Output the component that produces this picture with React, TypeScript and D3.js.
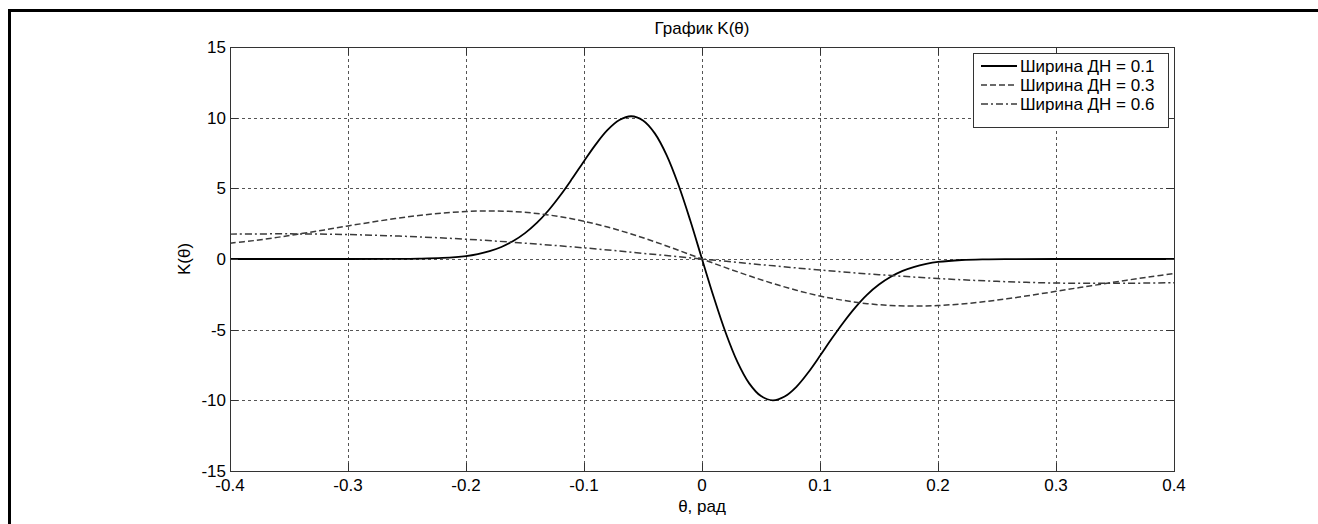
import React from 'react';
import * as d3 from 'd3';

// values
const thetaSolid = [
  -0.4, -0.3, -0.26, -0.24, -0.22, -0.2, -0.19, -0.18, -0.17, -0.16, -0.15, -0.14, -0.13,
  -0.12, -0.11, -0.1, -0.09, -0.08, -0.07, -0.06, -0.05, -0.04, -0.03, -0.02, -0.01, 0,
  0.01, 0.02, 0.03, 0.04, 0.05, 0.06, 0.07, 0.08, 0.09, 0.1, 0.11, 0.12, 0.13, 0.14, 0.15,
  0.16, 0.17, 0.18, 0.19, 0.2, 0.22, 0.24, 0.26, 0.3, 0.4,
];
const kSolid = [
  0, 0, 0.005, 0.022, 0.073, 0.21, 0.35, 0.56, 0.85, 1.27, 1.83, 2.55, 3.45,
  4.51, 5.69, 6.92, 8.11, 9.13, 9.83, 10.1, 9.8, 8.89, 7.35, 5.25, 2.74, 0,
  -2.71, -5.2, -7.28, -8.8, -9.7, -10.0, -9.73, -9.04, -8.03, -6.85, -5.63, -4.47, -3.42, -2.52, -1.81,
  -1.26, -0.84, -0.55, -0.35, -0.21, -0.07, -0.02, -0.005, 0, 0,
];

const thetaDashed = [
  -0.4, -0.38, -0.36, -0.34, -0.32, -0.3, -0.28, -0.26, -0.24, -0.22, -0.2, -0.18, -0.16,
  -0.14, -0.12, -0.1, -0.08, -0.06, -0.04, -0.02, 0, 0.02, 0.04, 0.06, 0.08, 0.1, 0.12,
  0.14, 0.16, 0.18, 0.2, 0.22, 0.24, 0.26, 0.28, 0.3, 0.32, 0.34, 0.36, 0.38, 0.4,
];
const kDashed = [
  1.12, 1.3, 1.53, 1.79, 2.06, 2.34, 2.61, 2.86, 3.08, 3.25, 3.36, 3.4, 3.36,
  3.22, 2.99, 2.67, 2.26, 1.77, 1.22, 0.62, 0, -0.61, -1.19, -1.73, -2.21, -2.62, -2.93,
  -3.16, -3.29, -3.33, -3.29, -3.18, -3.01, -2.8, -2.55, -2.29, -2.02, -1.76, -1.5, -1.26, -1.03,
];

const thetaDashDot = [
  -0.4, -0.35, -0.3, -0.25, -0.2, -0.15, -0.1, -0.05, 0, 0.05, 0.1, 0.15, 0.2, 0.25, 0.3, 0.35, 0.4,
];
const kDashDot = [
  1.76, 1.78, 1.73, 1.6, 1.4, 1.12, 0.79, 0.4, 0, -0.4, -0.78, -1.11, -1.38, -1.58, -1.7, -1.72, -1.68,
];

const xTicks = [-0.4, -0.3, -0.2, -0.1, 0, 0.1, 0.2, 0.3, 0.4];
const yTicks = [-15, -10, -5, 0, 5, 10, 15];
const legendLabels = ['Ширина ДН = 0.1', 'Ширина ДН = 0.3', 'Ширина ДН = 0.6'];

const W = 1318;
const H = 524;
const left = 230;
const right = 1174;
const top = 47;
const bottom = 471;
const font = '"Liberation Sans", Arial, sans-serif';

export default function App() {
  const x = d3.scaleLinear().domain([-0.4, 0.4]).range([left, right]);
  const y = d3.scaleLinear().domain([-15, 15]).range([bottom, top]);

  const line = d3
    .line<[number, number]>()
    .x((d) => x(d[0]))
    .y((d) => y(d[1]))
    .curve(d3.curveCatmullRom.alpha(0.5));

  const series = [
    { pts: thetaSolid.map((t, i) => [t, kSolid[i]] as [number, number]), dash: null, color: '#000', w: 1.8 },
    { pts: thetaDashed.map((t, i) => [t, kDashed[i]] as [number, number]), dash: '6,3', color: '#3a3a3a', w: 1.5 },
    { pts: thetaDashDot.map((t, i) => [t, kDashDot[i]] as [number, number]), dash: '7,3,2,3', color: '#3a3a3a', w: 1.5 },
  ];

  const tickLen = 8;
  const gridColor = '#555';
  const axisColor = '#333';

  return (
    <svg width={W} height={H} style={{ position: 'absolute', left: 0, top: 0, background: '#fff' }} fontFamily={font}>
      {/* figure frame */}
      <line x1={9.5} x2={W} y1={10.5} y2={10.5} stroke="#000" strokeWidth={3} />
      <line x1={9.5} x2={9.5} y1={9} y2={H} stroke="#000" strokeWidth={3} />

      {/* grid */}
      <g stroke={gridColor} strokeWidth={1} strokeDasharray="3,3">
        {xTicks.slice(1, -1).map((t) => (
          <line key={'gx' + t} x1={Math.round(x(t)) + 0.5} x2={Math.round(x(t)) + 0.5} y1={top} y2={bottom} />
        ))}
        {yTicks.slice(1, -1).map((t) => (
          <line key={'gy' + t} x1={left} x2={right} y1={Math.round(y(t)) + 0.5} y2={Math.round(y(t)) + 0.5} />
        ))}
      </g>

      {/* curves */}
      {series.map((s, i) => (
        <path
          key={'s' + i}
          d={line(s.pts) || ''}
          fill="none"
          stroke={s.color}
          strokeWidth={s.w}
          strokeDasharray={s.dash || undefined}
          strokeLinejoin="round"
        />
      ))}

      {/* axes box and ticks */}
      <rect x={left + 0.5} y={top + 0.5} width={right - left} height={bottom - top} fill="none" stroke={axisColor} strokeWidth={1} />
      <g stroke={axisColor} strokeWidth={1}>
        {xTicks.map((t) => {
          const px = Math.round(x(t)) + 0.5;
          return (
            <g key={'tx' + t}>
              <line x1={px} x2={px} y1={bottom} y2={bottom - tickLen} />
              <line x1={px} x2={px} y1={top} y2={top + tickLen} />
            </g>
          );
        })}
        {yTicks.map((t) => {
          const py = Math.round(y(t)) + 0.5;
          return (
            <g key={'ty' + t}>
              <line x1={left} x2={left + tickLen} y1={py} y2={py} />
              <line x1={right} x2={right - tickLen} y1={py} y2={py} />
            </g>
          );
        })}
      </g>

      {/* tick labels */}
      <g fontSize={17} fill="#000">
        {xTicks.map((t) => (
          <text key={'lx' + t} x={x(t)} y={491} textAnchor="middle">
            {d3.format('')(t).replace('−', '-')}
          </text>
        ))}
        {yTicks.map((t) => (
          <text key={'ly' + t} x={left - 4} y={y(t)} dy="0.35em" textAnchor="end">
            {String(t)}
          </text>
        ))}
      </g>

      {/* titles */}
      <text x={(left + right) / 2} y={34} textAnchor="middle" fontSize={17}>
        График K(θ)
      </text>
      <text x={(left + right) / 2} y={512} textAnchor="middle" fontSize={17}>
        θ, рад
      </text>
      <text transform={`translate(190, ${(top + bottom) / 2}) rotate(-90)`} textAnchor="middle" fontSize={17}>
        K(θ)
      </text>

      {/* legend */}
      <g>
        <rect x={973.5} y={53.5} width={195} height={74} fill="#fff" stroke={axisColor} strokeWidth={1} />
        {legendLabels.map((lab, i) => {
          const ly = 66 + i * 19;
          const s = series[i];
          return (
            <g key={'lg' + i}>
              <line x1={981} x2={1017} y1={ly} y2={ly} stroke={s.color} strokeWidth={s.w} strokeDasharray={s.dash || undefined} />
              <text x={1020} y={ly} dy="0.35em" fontSize={17}>
                {lab}
              </text>
            </g>
          );
        })}
      </g>
    </svg>
  );
}
